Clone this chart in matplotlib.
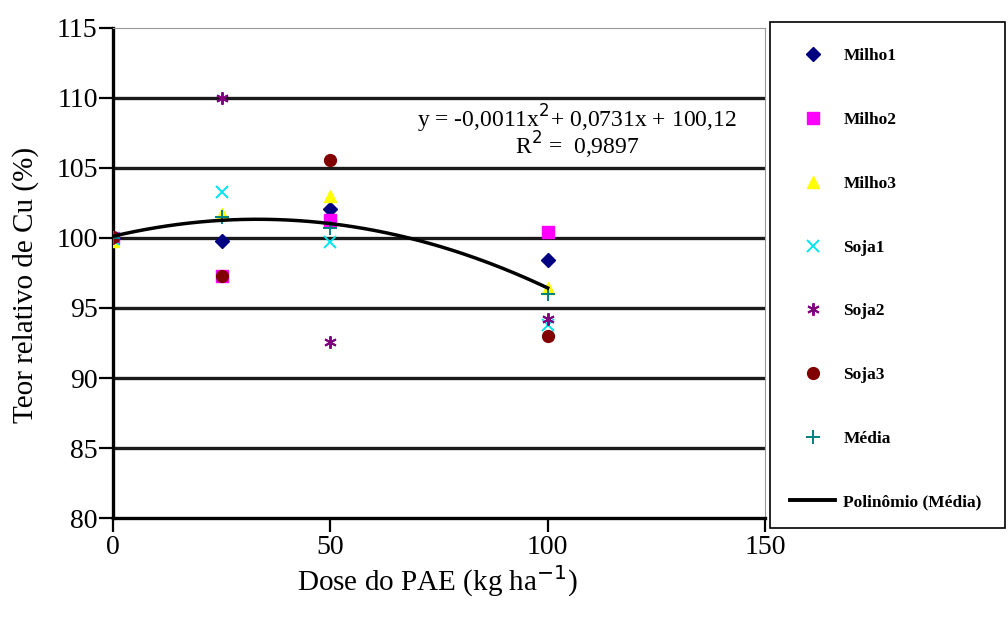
import numpy as np
from matplotlib import pyplot as plt
from matplotlib.lines import Line2D
from matplotlib.patches import Rectangle

# dados
dose = [0, 25, 50, 100]
milho1 = [100.0, 99.8, 102.1, 98.4]
milho2 = [100.0, 97.3, 101.3, 100.4]
milho3 = [99.8, 101.7, 103.0, 96.4]
soja1 = [99.9, 103.3, 99.7, 93.8]
soja2 = [100.0, 110.0, 92.6, 94.2]
soja3 = [100.1, 97.3, 105.6, 93.0]
media = [100.0, 101.5, 100.7, 96.0]
coef = [-0.0011, 0.0731, 100.12]  # y = a x^2 + b x + c

plt.rcParams['font.family'] = ['Liberation Serif', 'DejaVu Serif']

fig = plt.figure(figsize=(10.08, 6.19), dpi=100)
ax = fig.add_axes([0.112, 0.163, 0.647, 0.792])

series = [
    ("Milho1", milho1, dict(marker='D', color='#000080', ms=7.5)),
    ("Milho2", milho2, dict(marker='s', color='#ff00ff', ms=8)),
    ("Milho3", milho3, dict(marker='^', color='#ffff00', ms=9)),
    ("Soja1", soja1, dict(marker='x', color='#00e5ee', ms=9, mew=1.4)),
    ("Soja2", soja2, dict(marker=(6, 2, 0), color='#800080', ms=9, mew=1.4)),
    ("Soja3", soja3, dict(marker='o', color='#800000', ms=8.5)),
    ("Média", media, dict(marker='+', color='#008080', ms=10, mew=1.4)),
]
handles = []
for name, vals, st in series:
    ax.plot(dose, vals, ls='none', zorder=3, **st)
    handles.append(Line2D([], [], ls='none', label=name, **st))

xx = np.linspace(0, 100, 200)
ax.plot(xx, np.polyval(coef, xx), color='black', lw=2.5, zorder=4)
handles.append(Line2D([], [], color='black', lw=2.8, label='Polinômio (Média)'))

for yv in range(85, 115, 5):
    ax.axhline(yv, color='#1a1a1a', lw=2.4, zorder=1)

ax.set_xlim(0, 150)
ax.set_ylim(80, 115)
ax.set_xticks([0, 50, 100, 150])
ax.set_yticks(range(80, 116, 5))
ax.tick_params(axis='y', direction='out', length=10, width=1.6, labelsize=20, pad=1)
ax.tick_params(axis='x', direction='out', length=10, width=1.6, labelsize=20, pad=2)
ax.spines['left'].set_linewidth(2.4)
ax.spines['bottom'].set_linewidth(2.4)
ax.spines['top'].set_color('#999999')
ax.spines['right'].set_color('#999999')

ax.set_ylabel('Teor relativo de Cu (%)', fontsize=21)
ax.yaxis.set_label_coords(-0.113, 0.475)
ax.set_xlabel('Dose do PAE (kg ha$^{-1}$)', fontsize=21)
ax.xaxis.set_label_coords(0.498, -0.092)

ax.text(0.712, 0.788, 'y = -0,0011x$^2$+ 0,0731x + 100,12\nR$^2$ =  0,9897',
        transform=ax.transAxes, ha='center', va='center', fontsize=17,
        linespacing=0.8, zorder=5)

# legenda sem moldura + caixa desenhada a parte
leg = fig.legend(handles=handles, loc='upper left',
                 bbox_to_anchor=(0.784, 0.922), frameon=False,
                 prop=dict(size=12.5, weight='bold'),
                 labelspacing=2.74, handlelength=2.6, handletextpad=0.45,
                 borderpad=0, borderaxespad=0)
fig.patches.append(Rectangle((0.764, 0.147), 0.233, 0.818, transform=fig.transFigure,
                             fill=False, edgecolor='black', lw=1.2))

fig.savefig('out.png', dpi=100)
